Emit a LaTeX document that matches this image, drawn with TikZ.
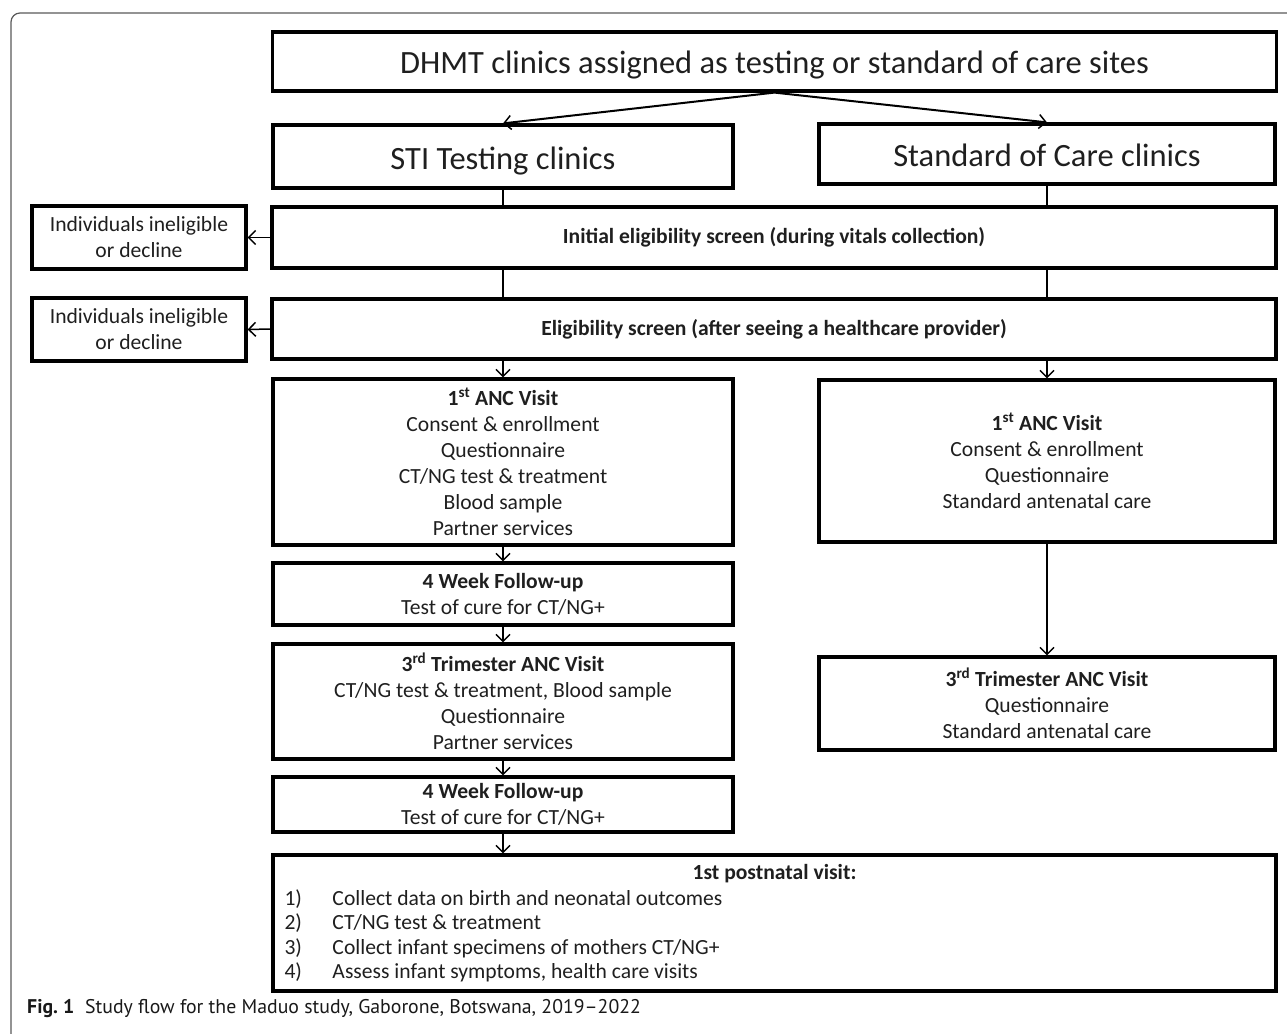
\documentclass[tikz,border=0pt]{standalone}
\usepackage{fontspec}
\setmainfont{Carlito}
\newfontfamily\capfont{PT Sans}
\usetikzlibrary{arrows.meta}
\begin{document}
\begin{tikzpicture}[x=1pt,y=-1pt,
  box/.style={draw, line width=3.2pt, rectangle, inner sep=0pt, align=center,
    text=black!88, font=\fontsize{21.6}{26}\selectfont},
  big/.style={font=\fontsize{32.5}{38}\selectfont, text height=25pt, text depth=0pt},
  lc/.style={box, minimum width=460pt},
  rc/.style={box, minimum width=456pt},
  wide/.style={box, minimum width=1004pt},
  side/.style={box, minimum width=214pt, minimum height=63pt},
  ln/.style={line width=1.5pt},
  arr/.style={line width=1.5pt, -{Straight Barb[length=7pt,width=14pt,line width=1.5pt]}},
  darr/.style={arr, line width=2pt},
  frame/.style={line width=1.2pt, draw=black!65, rounded corners=9pt}
]
\useasboundingbox (0,0) rectangle (1287,1033);
\draw[frame] (11,1040) -- (11,13) -- (1295,13);

\node[wide, minimum height=59pt, big] (top) at (774.5,61.5)
  {DHMT clinics assigned as testing or standard of care sites};
\node[lc, minimum height=63pt, big] (sti) at (503,156.5) {STI Testing clinics};
\node[rc, minimum height=60pt, big] (soc) at (1047,154) {Standard of Care clinics};

\node[wide, minimum height=61pt] (init) at (774,237.5)
  {\textbf{Initial eligibility screen (during vitals collection)}};
\node[side] (out1) at (139,237.5) {Individuals ineligible\\or decline};
\node[wide, minimum height=60pt] (elig) at (774,329)
  {\textbf{Eligibility screen (after seeing a healthcare provider)}};
\node[side] (out2) at (139,329.5) {Individuals ineligible\\or decline};

\node[lc, minimum height=166pt] (ancl) at (503,462)
  {\textbf{1\textsuperscript{st} ANC Visit}\\Consent \& enrollment\\Questionnaire\\CT/NG test \& treatment\\Blood sample\\Partner services};
\node[rc, minimum height=162pt] (ancr) at (1047,461)
  {\textbf{1\textsuperscript{st} ANC Visit}\\Consent \& enrollment\\Questionnaire\\Standard antenatal care};
\node[lc, minimum height=62pt] (fua) at (503,594)
  {\textbf{4 Week Follow-up}\\Test of cure for CT/NG+};
\node[lc, minimum height=115pt] (tril) at (503,701.5)
  {\textbf{3\textsuperscript{rd} Trimester ANC Visit}\\CT/NG test \& treatment, Blood sample\\Questionnaire\\Partner services};
\node[rc, minimum height=93pt] (trir) at (1047,703.5)
  {\textbf{3\textsuperscript{rd} Trimester ANC Visit}\\Questionnaire\\Standard antenatal care};
\node[lc, minimum height=55pt] (fub) at (503,804.5)
  {\textbf{4 Week Follow-up}\\Test of cure for CT/NG+};
\node[box, minimum width=1003pt, minimum height=136pt, align=none,
  font=\fontsize{21.6}{24.4}\selectfont] (post) at (774.5,923)
  {\parbox{980pt}{{\centering\bfseries 1st postnatal visit:\par}\vspace{2pt}%
   \raggedright
   \makebox[48pt][l]{1)}Collect data on birth and neonatal outcomes\\
   \makebox[48pt][l]{2)}CT/NG test \& treatment\\
   \makebox[48pt][l]{3)}Collect infant specimens of mothers CT/NG+\\
   \makebox[48pt][l]{4)}Assess infant symptoms, health care visits}};

\node[anchor=base west, inner sep=0pt, text=black!90, font=\capfont\fontsize{19.8}{24}\selectfont] (cap) at (27,1013)
  {\textbf{Fig.~1}\hspace{0.55em}Study flow for the Maduo study, Gaborone, Botswana, 2019–2022};

\draw[darr] (top.south) -- (sti.north);
\draw[darr] (top.south) -- (soc.north);
\draw[ln] (sti.south) -- (sti.south |- init.north);
\draw[ln] (soc.south) -- (soc.south |- init.north);
\draw[ln] (init.south -| sti.south) -- (elig.north -| sti.south);
\draw[ln] (init.south -| soc.south) -- (elig.north -| soc.south);
\draw[arr] (init.west) -- (out1.east);
\draw[arr] (elig.west) -- (out2.east);
\draw[arr] (elig.south -| ancl.north) -- (ancl.north);
\draw[arr] (elig.south -| ancr.north) -- (ancr.north);
\draw[arr] (ancl.south) -- (fua.north);
\draw[arr] (fua.south) -- (tril.north);
\draw[arr] (tril.south) -- (fub.north);
\draw[arr] (fub.south) -- (fub.south |- post.north);
\draw[arr] (ancr.south) -- (trir.north);
\end{tikzpicture}
\end{document}
